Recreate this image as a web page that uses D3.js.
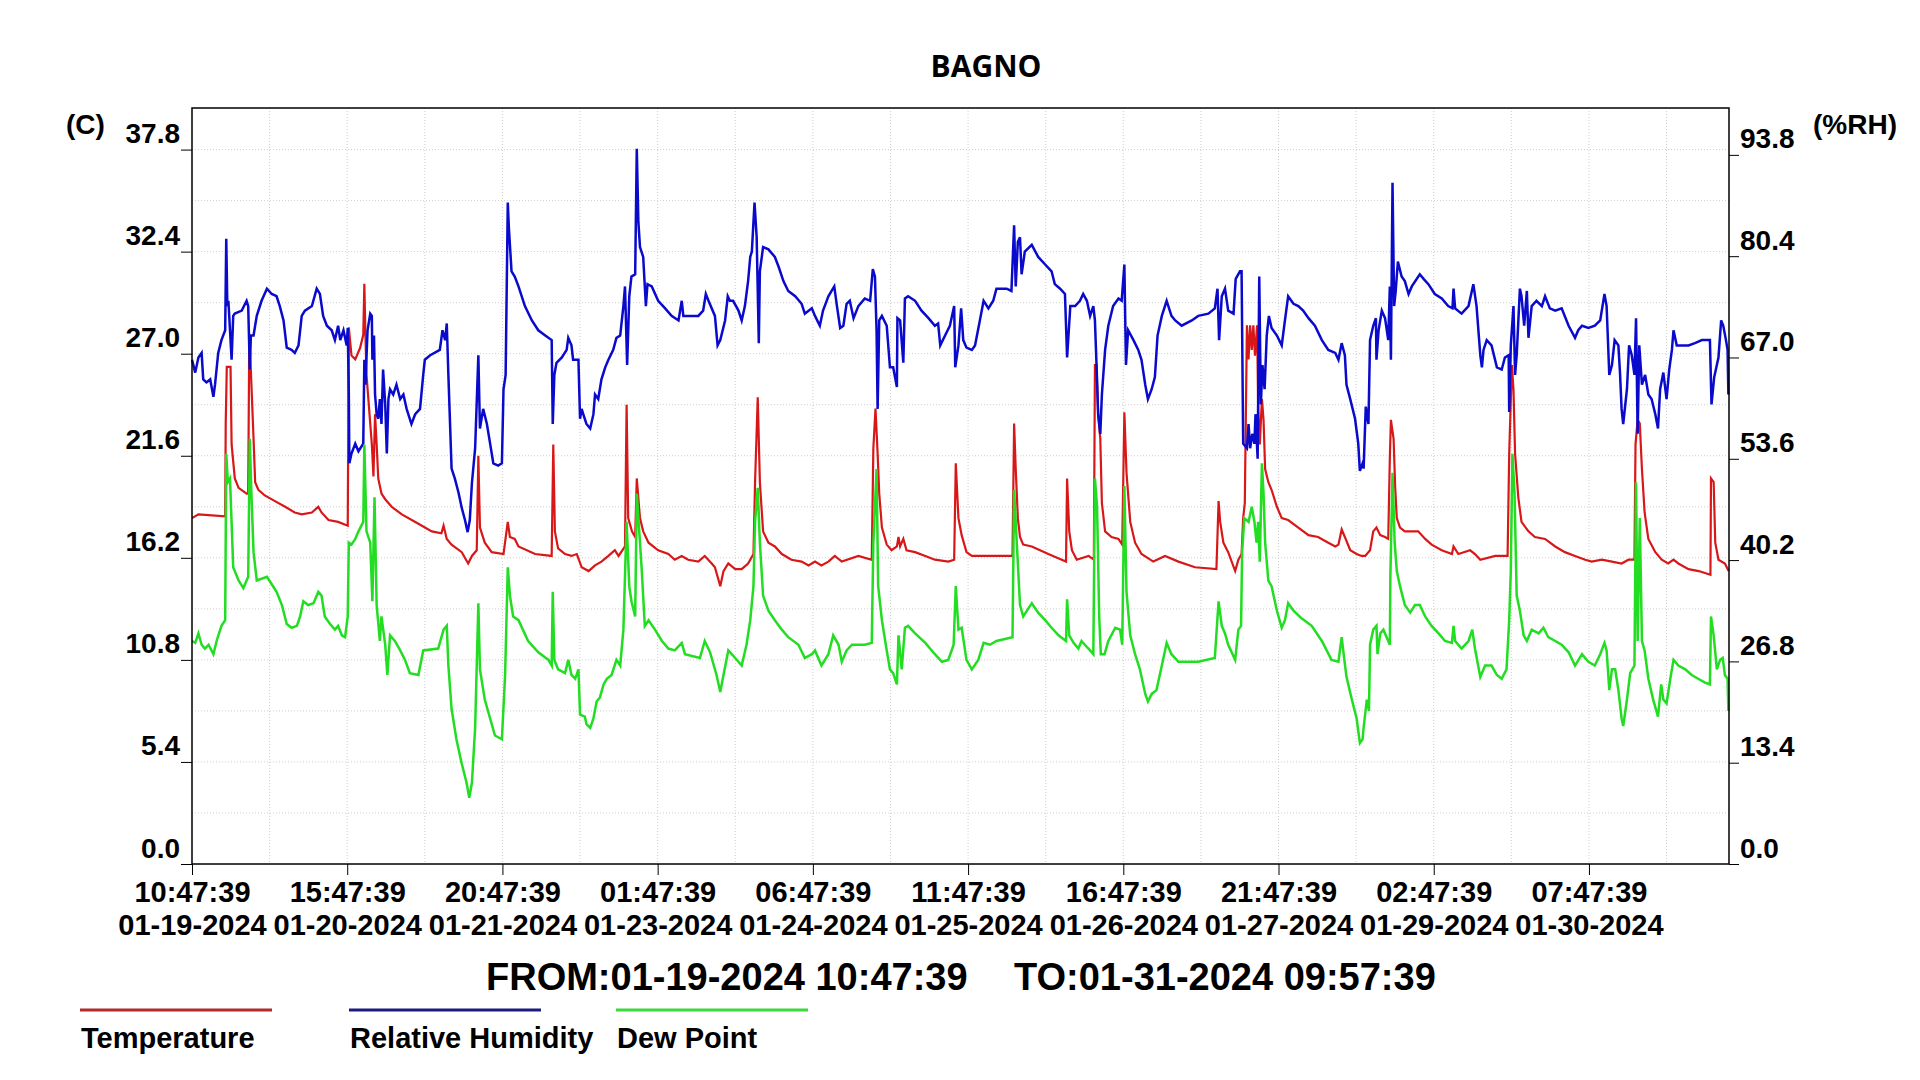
<!DOCTYPE html>
<html>
<head>
<meta charset="utf-8">
<script src="https://cdn.jsdelivr.net/npm/d3@7"></script>
<style>
  body { margin: 0; background: #ffffff; }
  #container { width: 1920px; height: 1080px; }
</style>
</head>
<body>
<div id="container"></div>
<script>
// logger readings, [hours since start, value]
const temperature = [[0.0,18.3],[1.2,18.5],[6.2,18.4],[6.3,23.3],[6.5,26.3],[7.2,26.3],[7.4,22.2],[8.0,20.4],[8.7,19.9],[10.2,19.6],[10.5,19.6],[10.7,28.0],[11.0,26.1],[11.5,22.5],[11.8,20.2],[12.4,19.8],[13.6,19.5],[15.5,19.2],[17.4,18.9],[19.2,18.6],[20.5,18.5],[22.4,18.6],[23.6,18.9],[24.2,18.6],[25.5,18.2],[27.3,18.1],[29.1,17.9],[29.3,28.4],[29.8,26.9],[30.5,26.7],[31.4,27.3],[32.0,28.0],[32.2,30.7],[32.4,28.0],[32.6,25.9],[33.6,22.2],[33.9,20.5],[34.2,23.8],[34.5,22.2],[34.8,20.4],[35.4,19.6],[36.1,19.3],[37.3,18.9],[39.2,18.5],[42.3,18.0],[44.8,17.6],[46.6,17.5],[47.0,17.9],[47.6,17.2],[48.5,16.9],[50.4,16.5],[51.6,15.9],[52.3,16.3],[53.2,16.6],[53.5,21.6],[53.8,17.8],[54.7,17.0],[56.0,16.5],[58.2,16.4],[59.0,18.1],[59.4,17.3],[60.3,17.2],[61.0,16.8],[64.1,16.4],[67.2,16.3],[67.5,22.2],[67.8,17.6],[68.4,16.7],[69.7,16.4],[70.9,16.3],[71.9,16.4],[72.8,15.7],[74.1,15.5],[75.3,15.8],[76.5,16.0],[77.8,16.3],[79.0,16.6],[79.7,16.3],[80.9,16.8],[81.2,24.3],[81.5,18.3],[82.2,17.6],[82.8,17.3],[83.1,20.4],[83.7,18.3],[84.3,17.6],[85.3,17.0],[87.1,16.6],[89.0,16.4],[90.2,16.1],[91.5,16.3],[92.7,16.1],[94.6,16.0],[95.8,16.3],[97.1,15.9],[97.7,15.7],[98.7,14.7],[99.3,15.5],[100.2,15.9],[101.5,15.6],[102.7,15.6],[103.9,15.9],[104.9,16.4],[105.2,20.2],[105.7,24.7],[106.1,20.2],[106.7,17.6],[107.7,17.0],[108.9,16.8],[110.2,16.4],[112.0,16.1],[113.9,16.0],[115.2,15.8],[116.4,16.0],[117.6,15.8],[118.9,16.0],[120.1,16.3],[121.4,16.0],[124.5,16.3],[127.0,16.1],[127.3,22.0],[127.7,24.1],[128.1,21.7],[128.4,19.6],[128.9,17.8],[129.8,16.9],[130.7,16.6],[131.7,16.8],[132.0,17.3],[132.3,16.8],[132.9,17.2],[133.5,16.6],[135.1,16.5],[137.0,16.3],[138.8,16.1],[141.3,16.0],[142.4,16.1],[142.7,21.2],[143.2,18.3],[143.8,17.4],[144.7,16.5],[145.7,16.3],[146.9,16.3],[149.4,16.3],[151.9,16.3],[153.3,16.3],[153.6,23.3],[153.9,20.9],[154.3,18.3],[154.7,17.3],[155.3,16.9],[156.9,16.8],[160.0,16.4],[162.5,16.1],[163.3,16.0],[163.5,20.4],[163.9,17.6],[164.4,16.6],[165.3,16.1],[167.5,16.3],[168.5,16.1],[168.7,26.4],[169.0,26.4],[169.3,23.8],[169.7,22.5],[170.0,19.1],[170.6,17.6],[171.8,17.3],[173.1,17.2],[173.8,16.9],[174.2,23.9],[174.6,20.7],[175.3,18.1],[176.2,17.0],[177.4,16.4],[179.6,16.0],[181.8,16.3],[184.3,16.0],[187.4,15.7],[191.4,15.6],[191.8,19.2],[192.1,18.1],[192.7,17.0],[193.6,16.5],[194.9,15.5],[195.5,16.1],[196.1,16.4],[196.4,18.3],[196.7,19.1],[197.1,28.5],[197.4,26.7],[197.7,28.5],[198.0,27.2],[198.3,28.5],[198.6,26.9],[199.0,28.5],[199.2,24.1],[199.5,22.2],[199.9,24.6],[200.2,23.5],[200.5,20.9],[201.1,20.2],[201.7,19.8],[202.7,18.9],[203.6,18.3],[204.8,18.2],[206.7,17.8],[208.6,17.4],[210.4,17.3],[212.3,17.0],[213.6,16.8],[214.2,16.9],[214.8,17.7],[215.4,17.3],[216.4,16.6],[217.6,16.4],[218.5,16.3],[219.2,16.3],[220.1,16.6],[220.7,17.6],[221.3,17.8],[222.0,17.4],[222.9,17.3],[223.5,17.2],[223.8,21.5],[224.0,23.5],[224.5,22.5],[224.8,19.9],[225.1,18.3],[225.7,17.8],[226.6,17.6],[229.1,17.6],[230.4,17.2],[231.6,16.9],[233.5,16.6],[235.4,16.4],[235.7,16.8],[236.6,16.4],[238.8,16.6],[239.7,16.4],[240.7,16.1],[243.5,16.3],[245.8,16.3],[246.1,21.7],[246.6,26.4],[246.9,25.1],[247.2,21.7],[247.8,19.4],[248.4,18.1],[249.7,17.6],[250.9,17.3],[252.8,17.2],[254.7,16.8],[256.5,16.5],[258.4,16.3],[260.3,16.1],[261.5,16.0],[263.4,16.1],[265.3,16.0],[267.1,15.9],[268.4,16.1],[269.5,16.1],[269.7,22.2],[270.1,23.5],[270.5,23.3],[270.9,20.9],[271.4,18.6],[272.1,17.2],[273.4,16.5],[274.6,16.1],[275.8,15.9],[276.8,16.1],[277.7,15.9],[279.6,15.6],[281.5,15.5],[283.7,15.3],[283.8,20.4],[284.3,20.2],[284.6,17.0],[285.2,16.1],[286.4,15.9],[287.1,15.5]];

const humidity = [[0.0,66.7],[0.6,65.0],[1.2,67.0],[1.8,67.6],[2.1,64.1],[2.7,63.7],[3.4,64.1],[4.0,61.8],[4.3,63.4],[4.9,67.6],[5.5,69.3],[6.2,70.6],[6.4,82.7],[6.6,73.8],[6.8,74.5],[7.1,70.6],[7.4,66.7],[7.7,72.5],[8.0,72.8],[9.3,73.2],[10.2,74.5],[10.5,73.8],[10.8,65.4],[11.0,69.9],[11.5,69.9],[12.1,72.5],[13.0,74.5],[14.0,76.1],[14.9,75.4],[15.8,75.1],[16.4,73.8],[17.1,71.9],[17.7,68.3],[18.6,68.0],[19.2,67.6],[19.9,68.6],[20.5,72.5],[21.1,73.2],[22.4,73.8],[23.3,76.1],[23.9,75.4],[24.5,72.5],[25.2,71.2],[26.1,70.6],[26.7,69.3],[27.3,71.2],[27.7,69.3],[28.3,70.6],[28.9,68.6],[29.1,70.9],[29.3,62.1],[29.4,53.0],[29.8,54.3],[30.5,55.6],[31.1,54.6],[32.0,55.6],[32.2,66.7],[32.4,63.4],[32.8,70.6],[33.3,72.8],[33.6,72.5],[33.7,66.7],[34.0,69.9],[34.2,62.1],[34.5,59.5],[34.8,58.9],[35.1,61.5],[35.4,58.2],[35.7,65.4],[36.1,60.8],[36.4,54.3],[36.7,61.5],[37.0,62.8],[37.6,62.1],[38.2,63.4],[38.9,61.5],[39.5,62.1],[40.1,60.2],[41.0,58.2],[41.7,59.5],[42.6,60.2],[43.2,64.7],[43.5,66.7],[44.5,67.3],[46.3,68.0],[46.8,70.6],[47.3,69.3],[47.6,71.5],[47.9,64.7],[48.5,52.3],[49.1,51.0],[49.8,49.1],[50.4,47.1],[51.0,45.5],[51.5,43.9],[51.9,45.5],[52.3,50.4],[52.9,55.0],[53.5,67.3],[53.8,57.6],[54.4,60.2],[55.1,58.2],[55.7,55.6],[56.3,53.0],[57.2,52.7],[57.9,53.0],[58.2,62.8],[58.6,64.7],[59.0,87.5],[59.2,84.2],[59.7,78.4],[60.3,77.7],[61.0,76.4],[62.2,73.8],[63.5,71.9],[64.7,70.6],[66.0,69.9],[67.2,69.3],[67.4,58.2],[67.7,64.7],[68.1,66.3],[69.1,67.0],[70.0,68.0],[70.3,69.6],[70.9,68.6],[71.2,66.7],[72.2,66.7],[72.5,58.9],[72.8,60.2],[73.1,59.5],[73.7,58.2],[74.4,57.6],[75.0,59.5],[75.3,62.1],[75.9,61.5],[76.5,64.1],[77.2,65.7],[77.8,66.7],[78.7,68.0],[79.3,69.6],[80.0,69.9],[80.6,73.8],[80.9,76.4],[81.3,66.0],[81.7,75.1],[82.1,77.7],[82.8,78.0],[83.1,94.6],[83.4,84.9],[83.7,81.6],[84.3,80.3],[84.8,73.8],[85.1,76.7],[85.9,76.4],[87.1,74.5],[88.4,73.5],[89.6,72.5],[90.9,71.9],[91.5,74.5],[91.8,72.5],[93.0,72.5],[94.6,72.5],[95.5,73.2],[96.0,75.4],[96.5,74.5],[97.7,72.5],[98.2,68.6],[98.7,69.3],[99.6,71.9],[100.1,75.1],[100.5,74.5],[101.1,74.5],[102.1,73.2],[102.7,71.9],[103.3,73.8],[103.9,77.1],[104.3,80.3],[104.6,81.0],[105.1,87.5],[105.5,82.9],[105.9,68.9],[106.1,78.4],[106.7,81.6],[107.7,81.3],[108.9,80.3],[109.6,79.0],[110.5,77.1],[111.4,75.8],[112.7,75.1],[113.9,74.1],[114.5,72.8],[115.8,73.5],[116.4,72.5],[117.3,71.2],[117.9,73.2],[118.9,75.1],[119.5,75.8],[120.0,76.4],[120.5,73.8],[121.1,70.9],[121.7,71.2],[122.3,74.1],[122.9,74.5],[123.6,72.2],[124.5,73.8],[125.7,74.8],[126.7,74.5],[127.2,78.7],[127.6,77.7],[127.9,70.6],[128.1,60.2],[128.4,71.9],[128.9,72.5],[129.8,71.2],[130.4,65.7],[131.0,65.7],[131.7,63.1],[131.8,72.2],[132.3,71.9],[132.9,66.3],[133.2,74.8],[133.8,75.1],[135.1,74.5],[136.3,73.2],[137.6,72.2],[138.8,71.2],[139.4,71.5],[139.8,68.6],[140.7,69.9],[141.6,71.2],[142.4,73.8],[142.6,65.7],[143.2,68.6],[143.7,73.5],[144.1,69.3],[144.7,68.3],[145.7,68.0],[146.3,68.6],[147.2,71.9],[147.9,74.5],[148.8,73.5],[149.7,74.5],[150.3,76.1],[152.2,76.1],[153.1,75.8],[153.6,84.5],[153.9,76.4],[154.3,82.3],[154.7,82.9],[155.0,78.0],[155.6,81.0],[156.9,81.9],[158.1,80.3],[159.4,79.3],[160.6,78.4],[161.2,76.7],[162.2,76.1],[163.1,75.4],[163.5,67.0],[164.1,73.8],[165.0,73.8],[165.9,74.5],[166.5,75.4],[167.2,74.5],[167.8,72.5],[168.4,73.8],[168.7,71.9],[169.0,66.0],[169.3,59.5],[169.7,56.9],[170.0,62.1],[170.6,68.0],[171.2,71.2],[172.1,73.8],[173.1,74.8],[173.7,74.5],[174.2,79.3],[174.5,66.0],[174.9,70.6],[175.9,69.3],[176.8,68.0],[177.4,66.7],[178.1,63.4],[178.6,61.5],[179.3,62.8],[179.9,64.4],[180.4,69.9],[181.2,72.5],[182.1,74.5],[183.0,72.5],[183.7,71.9],[184.9,71.2],[186.8,71.9],[188.0,72.5],[189.9,72.8],[191.1,73.5],[191.6,76.1],[191.9,69.3],[192.4,75.1],[193.0,76.1],[193.6,73.2],[194.6,72.8],[195.0,77.4],[195.8,78.4],[196.1,78.4],[196.4,55.6],[197.1,55.0],[197.4,58.2],[197.7,55.0],[198.1,56.9],[198.5,55.6],[198.7,59.5],[199.1,53.6],[199.4,77.7],[199.7,60.8],[200.0,66.0],[200.4,62.8],[200.8,69.9],[201.2,72.5],[201.7,70.9],[202.7,69.9],[203.6,68.6],[204.2,71.9],[204.8,75.1],[205.8,74.1],[206.7,73.8],[207.6,73.2],[208.6,72.2],[209.8,71.2],[211.1,69.3],[212.3,68.0],[213.6,67.6],[214.2,66.7],[214.8,68.9],[215.4,67.3],[215.7,63.4],[216.4,61.5],[217.3,58.9],[217.9,55.6],[218.2,52.0],[218.7,53.0],[218.9,52.3],[219.3,60.5],[219.8,58.2],[220.1,69.3],[220.7,71.2],[221.2,72.2],[221.3,66.7],[221.7,70.6],[222.3,73.2],[222.9,72.2],[223.5,69.3],[223.8,76.4],[224.0,66.7],[224.3,90.1],[224.6,73.8],[224.9,75.8],[225.3,79.7],[226.0,77.7],[226.6,77.1],[227.3,75.4],[227.9,76.4],[229.4,78.0],[230.1,77.4],[231.0,76.7],[232.2,75.4],[233.5,74.8],[234.7,73.8],[235.5,73.5],[235.7,76.1],[236.0,73.5],[237.2,72.8],[238.5,73.8],[239.4,76.7],[240.0,73.8],[240.7,67.3],[241.0,65.7],[241.3,68.0],[241.9,69.3],[242.8,68.6],[243.8,65.7],[244.7,65.4],[245.3,67.0],[246.0,67.3],[246.1,59.8],[246.4,68.6],[246.9,73.8],[247.2,64.7],[247.5,67.3],[248.1,76.1],[248.4,75.1],[248.9,71.2],[249.4,75.8],[249.7,69.6],[250.3,73.8],[251.2,74.5],[252.2,73.8],[252.8,75.1],[253.7,73.5],[254.7,73.2],[255.9,73.5],[257.2,71.2],[258.4,69.6],[259.0,70.6],[259.7,71.2],[260.9,70.9],[262.1,71.2],[263.1,71.9],[263.9,75.4],[264.3,73.8],[264.8,64.7],[265.3,66.0],[265.8,69.3],[266.5,68.6],[266.8,65.0],[267.1,60.2],[267.4,58.2],[268.1,62.8],[268.5,68.6],[269.0,67.3],[269.5,64.7],[269.8,72.2],[270.1,56.9],[270.4,68.6],[270.9,63.4],[271.5,64.7],[272.1,62.1],[272.7,61.5],[273.4,59.5],[273.9,57.6],[274.3,62.8],[274.9,65.0],[275.5,61.5],[276.0,65.4],[276.5,68.0],[276.8,70.6],[277.4,68.6],[279.6,68.6],[280.8,68.9],[282.1,69.3],[283.6,69.3],[283.9,60.8],[284.4,64.4],[285.2,67.0],[285.7,71.9],[286.1,71.2],[286.6,69.3],[286.9,68.0],[287.05,62.1]];

const dewPoint = [[0.0,11.8],[0.6,11.7],[1.2,12.2],[1.8,11.6],[2.4,11.4],[3.1,11.6],[4.0,11.1],[4.6,11.8],[5.5,12.6],[6.2,12.9],[6.4,21.7],[6.7,20.2],[7.1,20.4],[7.7,15.7],[8.7,15.0],[9.6,14.6],[10.5,15.2],[10.8,22.5],[11.1,19.6],[11.5,16.5],[12.1,15.0],[14.0,15.2],[14.9,14.8],[15.8,14.4],[16.8,13.7],[17.7,12.7],[18.6,12.5],[19.6,12.6],[20.2,13.1],[20.8,13.9],[21.7,13.7],[22.7,13.8],[23.6,14.4],[24.2,14.2],[24.8,13.1],[25.8,12.7],[26.7,12.4],[27.3,12.6],[28.0,12.1],[28.6,12.0],[29.1,13.1],[29.3,17.0],[29.8,16.9],[30.5,17.2],[31.1,17.6],[32.0,18.1],[32.2,22.2],[32.6,17.6],[33.3,17.0],[33.7,13.9],[34.1,19.4],[34.5,13.7],[35.1,11.8],[35.4,13.1],[36.1,11.6],[36.5,10.0],[37.0,12.1],[37.9,11.8],[38.9,11.3],[39.8,10.8],[40.7,10.1],[42.3,10.0],[43.2,11.3],[46.0,11.4],[47.0,12.4],[47.6,12.6],[47.9,10.5],[48.5,8.2],[49.4,6.6],[50.4,5.3],[51.3,4.3],[51.8,3.5],[52.3,4.3],[52.9,7.2],[53.5,13.8],[53.8,10.3],[54.7,8.7],[55.7,7.7],[56.6,6.8],[57.9,6.6],[58.5,10.0],[59.0,15.7],[59.4,14.2],[60.0,13.1],[61.0,12.9],[62.8,11.8],[64.7,11.2],[66.6,10.8],[67.2,10.5],[67.4,14.4],[67.7,10.8],[68.4,10.3],[69.7,10.1],[70.3,10.8],[70.9,10.0],[71.6,9.8],[72.2,10.3],[72.5,7.9],[73.4,7.8],[73.7,7.4],[74.4,7.2],[75.0,7.7],[75.6,8.6],[76.2,8.8],[76.9,9.5],[77.5,9.8],[78.4,10.0],[79.3,10.8],[80.0,10.5],[80.6,12.4],[81.2,18.1],[81.7,14.7],[82.1,13.9],[82.8,13.1],[83.1,19.6],[83.4,18.3],[84.0,15.7],[84.6,12.6],[85.3,12.9],[86.5,12.4],[87.8,11.8],[89.0,11.4],[90.2,11.3],[91.5,11.7],[92.1,11.1],[94.9,10.9],[95.8,11.8],[96.8,11.2],[98.0,10.0],[98.7,9.1],[99.3,10.0],[100.2,11.3],[101.5,10.9],[102.7,10.5],[103.6,11.6],[104.3,12.9],[104.9,14.7],[105.2,18.1],[105.7,19.9],[106.1,17.0],[106.7,14.2],[107.7,13.4],[108.9,12.9],[110.2,12.4],[111.4,12.0],[113.3,11.6],[114.5,10.9],[115.8,11.1],[116.4,11.3],[117.6,10.5],[118.9,11.1],[119.8,12.1],[120.8,11.6],[121.4,10.7],[122.3,11.3],[123.3,11.6],[125.7,11.6],[127.0,11.7],[127.3,17.0],[127.9,20.9],[128.2,14.7],[128.9,12.9],[129.8,11.3],[130.4,10.3],[131.0,10.1],[131.7,9.5],[132.0,12.1],[132.6,10.3],[133.2,12.5],[133.8,12.6],[135.1,12.2],[137.0,11.7],[138.8,11.1],[140.1,10.7],[141.3,10.8],[142.3,11.6],[142.7,14.7],[143.2,12.4],[143.8,12.5],[144.7,10.8],[145.7,10.3],[146.9,10.8],[147.9,11.7],[149.1,11.6],[150.3,11.8],[153.3,12.0],[153.6,19.8],[154.1,17.0],[154.7,13.7],[155.3,13.1],[156.9,13.8],[158.1,13.3],[159.4,12.9],[160.6,12.5],[161.9,12.1],[163.3,11.8],[163.5,14.0],[163.9,12.1],[164.7,11.7],[165.6,11.4],[166.2,11.8],[166.8,11.6],[167.8,11.3],[168.4,11.1],[168.7,20.4],[169.1,18.9],[169.5,13.1],[169.8,11.1],[170.5,11.1],[171.2,11.8],[172.5,12.5],[173.4,12.4],[173.8,11.6],[174.2,20.0],[174.6,14.4],[175.3,12.1],[176.2,11.1],[177.1,10.3],[178.1,9.0],[178.6,8.6],[179.3,9.0],[180.2,9.2],[181.2,10.5],[182.1,11.7],[183.0,11.1],[184.3,10.7],[188.0,10.7],[191.1,10.9],[191.8,13.9],[192.4,12.6],[193.0,12.2],[193.6,11.6],[194.9,10.8],[195.5,12.4],[196.0,12.6],[196.2,16.5],[196.6,18.3],[197.4,18.1],[198.0,18.9],[198.5,18.1],[198.9,17.0],[199.2,18.1],[199.5,16.0],[199.9,21.2],[200.2,19.6],[200.5,17.0],[201.1,15.0],[201.7,14.7],[202.7,13.4],[203.6,12.5],[204.2,12.9],[204.8,13.8],[205.8,13.4],[207.3,13.0],[209.2,12.6],[211.1,11.8],[212.9,10.8],[214.2,10.7],[214.8,12.0],[215.3,10.8],[215.7,9.9],[216.7,8.7],[217.6,7.7],[218.2,6.4],[218.7,6.6],[218.9,7.2],[219.5,8.7],[219.9,8.1],[220.1,11.6],[220.7,12.4],[221.3,12.6],[221.5,11.1],[222.0,12.2],[222.6,12.4],[223.2,12.0],[223.8,11.6],[223.9,15.2],[224.3,20.7],[224.7,17.0],[225.1,15.5],[225.7,14.7],[226.6,13.7],[227.6,13.3],[228.5,13.7],[229.4,13.7],[230.4,13.1],[231.6,12.6],[232.9,12.2],[234.1,11.8],[235.4,11.7],[235.7,12.6],[236.0,11.8],[237.2,11.4],[238.5,11.8],[239.2,12.4],[239.7,11.4],[240.7,9.9],[241.6,10.5],[242.8,10.5],[243.8,10.0],[244.7,9.8],[245.6,10.3],[246.1,12.9],[246.4,15.5],[246.7,21.7],[247.1,19.6],[247.5,14.2],[248.1,13.4],[248.8,12.1],[249.4,11.8],[250.3,12.4],[251.6,12.2],[252.5,12.5],[253.4,12.0],[254.7,11.8],[255.9,11.6],[257.2,11.2],[258.4,10.5],[259.7,11.1],[260.9,10.7],[262.1,10.5],[263.1,11.1],[263.9,11.7],[264.3,11.3],[264.8,9.2],[265.3,10.3],[265.9,10.3],[266.5,9.2],[267.1,7.7],[267.4,7.3],[268.1,8.7],[268.7,10.1],[269.5,10.5],[269.8,20.2],[270.1,11.8],[270.5,18.3],[270.9,11.8],[271.4,11.3],[272.1,9.8],[273.0,8.7],[273.9,7.8],[274.5,9.5],[274.9,8.7],[275.5,8.5],[276.2,9.8],[276.8,10.8],[277.7,10.5],[279.0,10.3],[280.2,10.0],[281.4,9.8],[282.7,9.6],[283.6,9.5],[283.8,13.1],[284.3,12.1],[284.9,10.3],[285.5,10.8],[286.0,10.9],[286.4,10.0],[286.9,9.8],[287.05,8.1]];

// axis ticks
const tempTicks = [0.0, 5.4, 10.8, 16.2, 21.6, 27.0, 32.4, 37.8];
const rhTicks = [0.0, 13.4, 26.8, 40.2, 53.6, 67.0, 80.4, 93.8];
const timeTickHours = [0, 29, 58, 87, 116, 145, 174, 203, 232, 261];
const seriesNames = ["Temperature", "Relative Humidity", "Dew Point"];

const start = new Date(2024, 0, 19, 10, 47, 39);
const end = new Date(2024, 0, 31, 9, 57, 39);
const toDate = h => new Date(start.getTime() + h * 3600000);

const plotL = 192, plotR = 1729, plotT = 108, plotB = 864;
const font = "'Liberation Sans', Arial, sans-serif";

let viz = d3.select("#container")
  .append("svg")
    .attr("width", 1920)
    .attr("height", 1080)
    .style("background", "#ffffff")
;

let x = d3.scaleTime().domain([start, end]).range([plotL, plotR]);
let yTemp = d3.scaleLinear().domain([0, 40]).range([plotB, plotT]);
let yRh = d3.scaleLinear().domain([0, 100]).range([plotB, plotT]);

// grid, half steps of the ticks
let gridHours = d3.range(14.5, 287, 14.5);
viz.append("g")
  .selectAll("line")
  .data(gridHours)
  .join("line")
    .attr("x1", d => x(toDate(d)))
    .attr("x2", d => x(toDate(d)))
    .attr("y1", plotT)
    .attr("y2", plotB)
    .attr("stroke", "#cfcfcf")
    .attr("stroke-dasharray", "1,2")
;
let gridTemps = d3.range(1, 15).map(i => i * 2.7);
viz.append("g")
  .selectAll("line")
  .data(gridTemps)
  .join("line")
    .attr("x1", plotL)
    .attr("x2", plotR)
    .attr("y1", d => yTemp(d))
    .attr("y2", d => yTemp(d))
    .attr("stroke", "#cfcfcf")
    .attr("stroke-dasharray", "1,2")
;

// series lines
let lineTemp = d3.line().x(d => x(toDate(d[0]))).y(d => yTemp(d[1]));
let lineRh = d3.line().x(d => x(toDate(d[0]))).y(d => yRh(d[1]));

viz.append("path")
    .datum(temperature)
    .attr("d", lineTemp)
    .attr("fill", "none")
    .attr("stroke", "#d81818")
    .attr("stroke-width", 2.2)
;
viz.append("path")
    .datum(humidity)
    .attr("d", lineRh)
    .attr("fill", "none")
    .attr("stroke", "#0a0acc")
    .attr("stroke-width", 2.5)
;
viz.append("path")
    .datum(dewPoint)
    .attr("d", lineTemp)
    .attr("fill", "none")
    .attr("stroke", "#22dd22")
    .attr("stroke-width", 2.5)
;

// frame
viz.append("rect")
    .attr("x", plotL)
    .attr("y", plotT)
    .attr("width", plotR - plotL)
    .attr("height", plotB - plotT)
    .attr("fill", "none")
    .attr("stroke", "black")
    .attr("stroke-width", 1.5)
;

// left axis
let axisL = viz.append("g")
    .attr("transform", `translate(${plotL},0)`)
    .call(d3.axisLeft(yTemp).tickValues(tempTicks).tickFormat(d3.format(".1f"))
      .tickSize(11).tickSizeOuter(0).tickPadding(1))
;
axisL.select(".domain").remove();
axisL.selectAll("text")
    .attr("dy", -7)
    .attr("font-family", font)
    .attr("font-weight", "bold")
    .attr("font-size", 28)
    .attr("fill", "black")
;

// right axis
let axisR = viz.append("g")
    .attr("transform", `translate(${plotR},0)`)
    .call(d3.axisRight(yRh).tickValues(rhTicks).tickFormat(d3.format(".1f"))
      .tickSize(10).tickSizeOuter(0).tickPadding(1))
;
axisR.select(".domain").remove();
axisR.selectAll("text")
    .attr("dy", -7)
    .attr("font-family", font)
    .attr("font-weight", "bold")
    .attr("font-size", 28)
    .attr("fill", "black")
;

// bottom axis
let fmtTime = d3.timeFormat("%H:%M:%S");
let fmtDate = d3.timeFormat("%m-%d-%Y");
let axisB = viz.append("g")
    .attr("transform", `translate(0,${plotB})`)
    .call(d3.axisBottom(x).tickValues(timeTickHours.map(toDate)).tickFormat("")
      .tickSize(11).tickSizeOuter(0))
;
axisB.select(".domain").remove();
axisB.selectAll(".tick text").remove();
axisB.selectAll(".tick").each(function (d) {
  let t = d3.select(this).append("text")
      .attr("text-anchor", "middle")
      .attr("font-family", font)
      .attr("font-weight", "bold")
      .attr("font-size", 29)
      .attr("fill", "black")
  ;
  t.append("tspan").attr("x", 0).attr("y", 38).text(fmtTime(d));
  t.append("tspan").attr("x", 0).attr("y", 71).text(fmtDate(d));
});

// units
viz.append("text")
    .text("(C)")
    .attr("x", 66)
    .attr("y", 134)
    .attr("font-family", font)
    .attr("font-weight", "bold")
    .attr("font-size", 28)
;
viz.append("text")
    .text("(%RH)")
    .attr("x", 1813)
    .attr("y", 134)
    .attr("font-family", font)
    .attr("font-weight", "bold")
    .attr("font-size", 28)
;

// title
viz.append("text")
    .text("BAGNO")
    .attr("x", 986)
    .attr("y", 77)
    .attr("text-anchor", "middle")
    .attr("font-family", "'Open Sans', sans-serif")
    .attr("font-weight", 700)
    .attr("font-size", 30)
;

// from / to
let fmtFull = d3.timeFormat("%m-%d-%Y %H:%M:%S");
viz.append("text")
    .text("FROM:" + fmtFull(start))
    .attr("x", 486)
    .attr("y", 990)
    .attr("font-family", font)
    .attr("font-weight", "bold")
    .attr("font-size", 38)
;
viz.append("text")
    .text("TO:" + fmtFull(end))
    .attr("x", 1014)
    .attr("y", 990)
    .attr("font-family", font)
    .attr("font-weight", "bold")
    .attr("font-size", 38)
;

// legend
let legendColors = ["#b22a2a", "#1c1c80", "#3ed83e"];
let legendX = [80, 349, 616];
let legend = viz.append("g")
  .selectAll("g")
  .data(seriesNames)
  .join("g")
    .attr("transform", (d, i) => `translate(${legendX[i]},0)`)
;
legend.append("line")
    .attr("x1", 0)
    .attr("x2", 192)
    .attr("y1", 1010)
    .attr("y2", 1010)
    .attr("stroke", (d, i) => legendColors[i])
    .attr("stroke-width", 3)
;
legend.append("text")
    .text(d => d)
    .attr("x", 1)
    .attr("y", 1048)
    .attr("font-family", font)
    .attr("font-weight", "bold")
    .attr("font-size", 29)
;
</script>
</body>
</html>
